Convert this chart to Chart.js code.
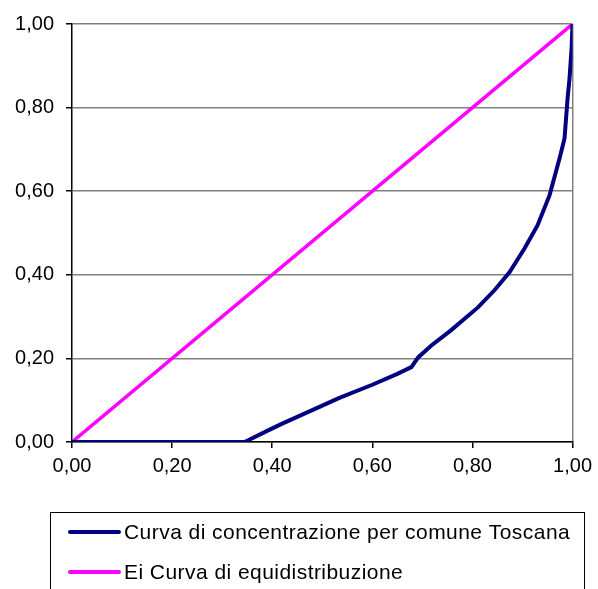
<!DOCTYPE html>
<html>
<head>
<meta charset="utf-8">
<script src="https://cdn.jsdelivr.net/npm/chart.js@4"></script>
<style>
  body { margin: 0; background: #fff; }
</style>
</head>
<body>
<canvas id="lorenzChart" width="598" height="589"></canvas>
<script>
// Curva di concentrazione (Lorenz) - quote cumulate
var concX = [0, 0.345, 0.394, 0.42, 0.45, 0.50, 0.533, 0.60, 0.65, 0.678, 0.692, 0.718, 0.757, 0.811, 0.844, 0.874, 0.904, 0.930, 0.954, 0.974, 0.984, 0.990, 0.994, 0.998, 1];
var concY = [0, 0, 0.029, 0.044, 0.060, 0.087, 0.105, 0.137, 0.163, 0.179, 0.203, 0.231, 0.267, 0.322, 0.363, 0.406, 0.463, 0.518, 0.590, 0.678, 0.726, 0.821, 0.87, 0.94, 1];
var equiX = [0, 1];
var equiY = [0, 1];
var tickValues = [0, 0.2, 0.4, 0.6, 0.8, 1];
var seriesLabels = ['Curva di concentrazione per comune Toscana', 'Ei Curva di equidistribuzione'];
var seriesColors = ['#000080', '#ff00ff'];

var fmt = function (v) { return v.toFixed(2).replace('.', ','); };
var toPoints = function (xs, ys) { return xs.map((x, i) => ({ x: x, y: ys[i] })); };

// legenda disegnata sotto il grafico, nel riquadro come in Excel
var boxLegend = {
    id: 'boxLegend',
    afterDraw: function (chart) {
        var ctx = chart.ctx;
        ctx.save();
        ctx.strokeStyle = '#000';
        ctx.lineWidth = 1;
        ctx.strokeRect(50.5, 512.5, 534, 120);
        ctx.font = '21px "Liberation Sans", Arial, sans-serif';
        ctx.letterSpacing = '0.45px';
        ctx.textBaseline = 'middle';
        ctx.fillStyle = '#000';
        seriesLabels.forEach(function (label, i) {
            var y = 532 + i * 40;
            ctx.strokeStyle = seriesColors[i];
            ctx.lineWidth = 4;
            ctx.lineCap = 'round';
            ctx.beginPath();
            ctx.moveTo(70, y);
            ctx.lineTo(119, y);
            ctx.stroke();
            ctx.fillText(label, 124, y + 1);
        });
        ctx.restore();
    }
};

var ctx = document.getElementById('lorenzChart').getContext('2d');
new Chart(ctx, {
    type: 'scatter',
    data: {
        datasets: [{
            label: seriesLabels[0],
            data: toPoints(concX, concY),
            showLine: true,
            borderColor: seriesColors[0],
            backgroundColor: seriesColors[0],
            borderWidth: 4,
            pointRadius: 0,
            tension: 0
        }, {
            label: seriesLabels[1],
            data: toPoints(equiX, equiY),
            showLine: true,
            borderColor: seriesColors[1],
            backgroundColor: seriesColors[1],
            borderWidth: 3.5,
            pointRadius: 0
        }]
    },
    options: {
        responsive: false,
        animation: false,
        layout: { padding: { left: 0, right: 23, top: 23, bottom: 0 } },
        plugins: {
            legend: { display: false },
            tooltip: { enabled: false }
        },
        scales: {
            x: {
                type: 'linear',
                min: 0,
                max: 1,
                afterBuildTicks: function (s) { s.ticks = tickValues.map(v => ({ value: v })); },
                afterFit: function (s) { s.height = 147; },
                ticks: {
                    callback: fmt,
                    color: '#000',
                    padding: 6,
                    maxRotation: 0,
                    font: { family: '"Liberation Sans", Arial, sans-serif', size: 20 }
                },
                grid: {
                    color: function (c) { return c.tick && c.tick.value === 1 ? '#808080' : 'rgba(0,0,0,0)'; },
                    tickColor: '#000',
                    tickLength: 6,
                    lineWidth: 1.5
                },
                border: { color: '#000', width: 1.5 }
            },
            y: {
                min: 0,
                max: 1,
                afterBuildTicks: function (s) { s.ticks = tickValues.map(v => ({ value: v })); },
                afterFit: function (s) { s.width = 72; },
                ticks: {
                    callback: fmt,
                    color: '#000',
                    padding: 12,
                    font: { family: '"Liberation Sans", Arial, sans-serif', size: 20 }
                },
                grid: {
                    color: '#808080',
                    tickColor: '#000',
                    tickLength: 6,
                    lineWidth: 1.5
                },
                border: { color: '#000', width: 1.5 }
            }
        }
    },
    plugins: [boxLegend]
});
</script>
</body>
</html>
